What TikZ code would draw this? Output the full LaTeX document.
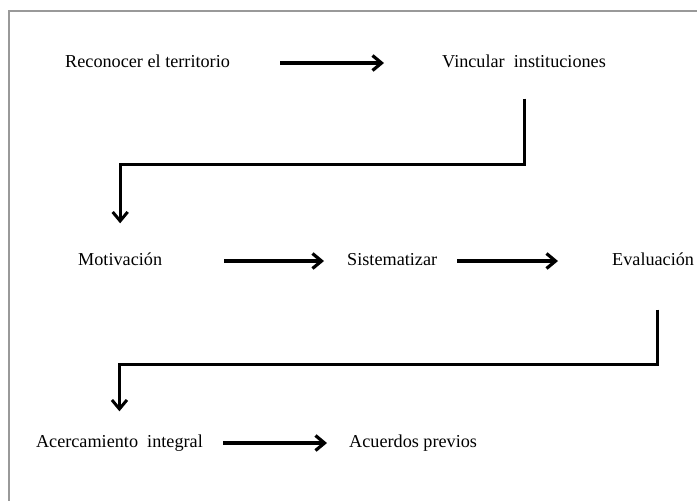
\documentclass[tikz,border=0pt]{standalone}
\usepackage{fontspec}
\setmainfont{Liberation Serif}
\usetikzlibrary{arrows.meta}
\begin{document}
\begin{tikzpicture}[x=1pt,y=-1pt,
    paso/.style={inner sep=0pt,text height=13pt,text depth=4pt,font=\fontsize{18.2}{22}\selectfont},
    flecha/.style={line width=3.2pt,-{Straight Barb[length=9pt,width=15pt]}},
    codo/.style={line width=3pt,-{Straight Barb[length=9pt,width=15pt]}}]
        \useasboundingbox (0,0) rectangle (697,501);
        \draw[gray!80,line width=1.6pt] (697,11) -- (9,11) -- (9,501);
        \node[paso,anchor=west] (rec) at (65,63) {Reconocer el territorio};
        \node[paso,anchor=west] (vinc) at (442,63) {Vincular\ \ instituciones};
        \node[paso,anchor=west] (moti) at (78,261) {Motivación};
        \node[paso,anchor=west] (sist) at (347,261) {Sistematizar};
        \node[paso,anchor=west] (eval) at (612,261) {Evaluación};
        \node[paso,anchor=east] (acer) at (203,443) {Acercamiento\ \ integral};
        \node[paso,anchor=west] (acue) at (349,443) {Acuerdos previos};
        \coordinate (bend1) at (0,164);
        \coordinate (bend2) at (0,364);
        \draw[flecha,shorten <=50pt,shorten >=58pt] (rec) -- (vinc);
        \draw[codo,shorten <=27pt,shorten >=29pt] (vinc.south) -- (vinc.south |- bend1) -| (moti.north);
        \draw[flecha,shorten <=62pt,shorten >=23pt] (moti) -- (sist);
        \draw[flecha,shorten <=20pt,shorten >=54pt] (sist) -- (eval);
        \draw[codo,shorten <=40pt,shorten >=23pt] ([xshift=4pt]eval.south) -- ([xshift=4pt]eval.south |- bend2) -| (acer.north);
        \draw[flecha,shorten <=20pt,shorten >=22pt] (acer) -- (acue);
\end{tikzpicture}
\end{document}
